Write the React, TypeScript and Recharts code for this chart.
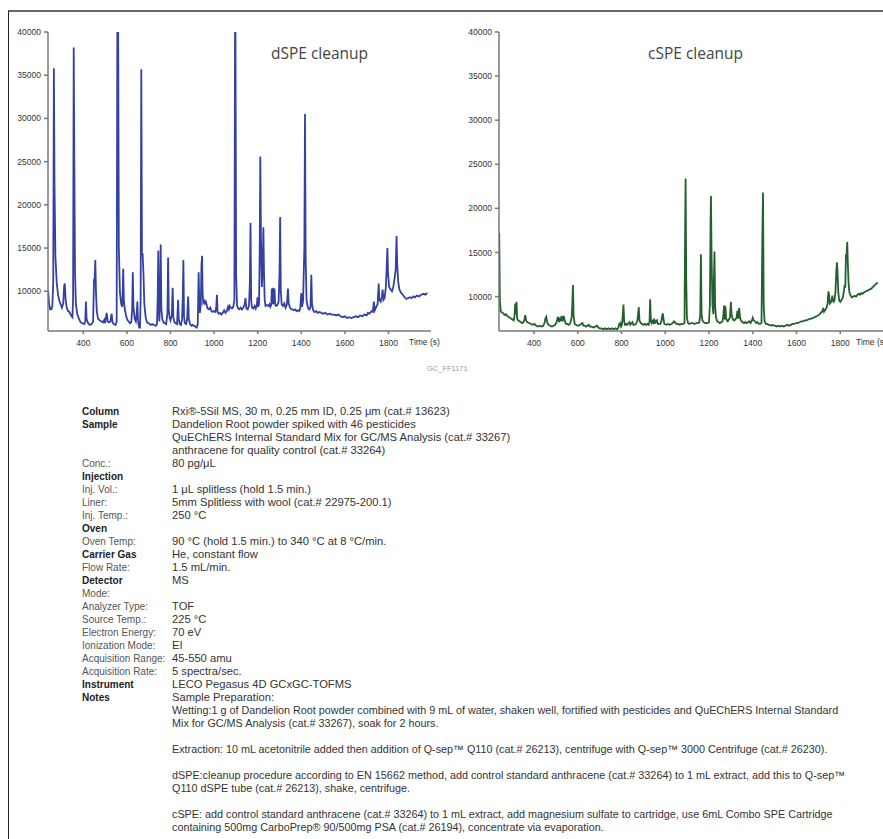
import { LineChart, Line, XAxis, YAxis } from "recharts";

// retention time (s) vs. detector response
const dspeTrace: [number, number][] = [
  [238, 10100], [243, 8600], [248, 7900], [254, 7900], [258, 8300], [262, 11000], [265, 35800],
  [268, 22000], [272, 14000], [278, 11000], [284, 9600], [290, 8900], [296, 8500], [302, 8100],
  [308, 8600], [312, 10600], [315, 10900], [319, 9000], [324, 8100], [330, 7700], [336, 7600],
  [344, 7200], [350, 7000], [353, 9000], [356, 38200], [359, 24000], [362, 12000], [366, 8500],
  [372, 7400], [380, 6800], [388, 6400], [396, 6300], [404, 6200], [409, 6500], [412, 8800],
  [415, 6800], [422, 6300], [430, 6100], [438, 6200], [445, 6500], [449, 11300], [452, 11500],
  [455, 13600], [458, 10000], [462, 7600], [468, 6800], [476, 6600], [484, 6500], [490, 6400],
  [496, 6700], [500, 6300], [507, 7500], [512, 6500], [518, 6400], [524, 6500], [530, 7400],
  [534, 6400], [540, 6200], [548, 6100], [553, 6500], [556, 40000], [560, 40000], [563, 15000],
  [568, 9800], [574, 8500], [579, 8200], [583, 12600], [586, 9000], [590, 8000], [596, 7200],
  [602, 6700], [608, 6500], [614, 6300], [620, 6400], [624, 7800], [627, 12200], [630, 8200],
  [636, 6800], [641, 6500], [645, 7400], [648, 8800], [651, 6600], [656, 5800], [660, 5800],
  [663, 9000], [666, 35700], [669, 14200], [672, 14400], [676, 12000], [680, 8500], [686, 7000],
  [692, 6400], [700, 6300], [708, 6100], [716, 6200], [724, 6100], [732, 6000], [738, 6200],
  [741, 9000], [744, 14700], [746, 8000], [749, 6500], [752, 9000], [755, 15400], [758, 8000],
  [762, 6800], [768, 6400], [774, 6300], [780, 6200], [786, 7500], [789, 13900], [792, 8000],
  [796, 6900], [800, 6600], [806, 7200], [810, 10400], [813, 7000], [818, 6400], [824, 6300],
  [830, 6200], [835, 9000], [838, 6800], [842, 6200], [848, 6100], [853, 6800], [856, 9000],
  [859, 13600], [862, 7000], [866, 6300], [872, 6200], [876, 6700], [881, 9400], [884, 6800],
  [890, 6200], [896, 6000], [902, 6100], [908, 6000], [914, 5900], [920, 5800], [925, 6200],
  [929, 12200], [932, 9000], [935, 7500], [939, 8500], [942, 13000], [945, 14100], [947, 10000],
  [950, 8700], [954, 8900], [958, 8600], [962, 8800], [966, 8400], [970, 8000], [976, 7900],
  [982, 8100], [988, 7700], [994, 7600], [1000, 7700], [1006, 7600], [1010, 8200], [1013, 9600],
  [1016, 7600], [1022, 7400], [1028, 7500], [1034, 7300], [1040, 7500], [1046, 7800], [1052, 7500],
  [1058, 7700], [1064, 8200], [1068, 7900], [1072, 8300], [1076, 8100], [1082, 8000], [1088, 8200],
  [1093, 9000], [1096, 40000], [1098, 40000], [1101, 12000], [1105, 8400], [1110, 8000], [1116, 7900],
  [1122, 8100], [1128, 7900], [1134, 8100], [1140, 8500], [1144, 9200], [1148, 8000], [1154, 7900],
  [1160, 8300], [1164, 11000], [1167, 17900], [1170, 9000], [1174, 8100], [1180, 8000], [1186, 8300],
  [1191, 8000], [1196, 8400], [1199, 9300], [1202, 8200], [1206, 8500], [1209, 14000], [1212, 25600],
  [1215, 16000], [1219, 10500], [1223, 13000], [1226, 17400], [1229, 12000], [1232, 9000], [1236, 8300],
  [1242, 8400], [1248, 8300], [1254, 8500], [1258, 8200], [1262, 8400], [1265, 10300], [1268, 8500],
  [1271, 10400], [1274, 8500], [1277, 10300], [1280, 8500], [1284, 8300], [1290, 8400], [1296, 8800],
  [1300, 12000], [1303, 18600], [1306, 10000], [1310, 8500], [1316, 8300], [1322, 8600], [1328, 8100],
  [1334, 8500], [1339, 10300], [1342, 8600], [1348, 8100], [1354, 7900], [1360, 7900], [1366, 7800],
  [1372, 7900], [1378, 7700], [1384, 7800], [1390, 7700], [1395, 8000], [1400, 9800], [1403, 8200],
  [1408, 8800], [1414, 15000], [1417, 30500], [1420, 14000], [1424, 9000], [1430, 8100], [1436, 7900],
  [1442, 8100], [1446, 11900], [1449, 8600], [1454, 7800], [1460, 7600], [1468, 7700], [1476, 7500],
  [1484, 7600], [1492, 7500], [1500, 7400], [1510, 7500], [1520, 7300], [1530, 7400], [1540, 7300],
  [1550, 7300], [1560, 7200], [1570, 7300], [1580, 7100], [1590, 7000], [1600, 7100], [1610, 6900],
  [1620, 7000], [1630, 6900], [1640, 7000], [1650, 7100], [1660, 7000], [1670, 7200], [1680, 7100],
  [1690, 7300], [1700, 7200], [1706, 7500], [1712, 7400], [1722, 7700], [1728, 7600], [1733, 8800],
  [1737, 7800], [1744, 8200], [1750, 8500], [1755, 10900], [1758, 9000], [1764, 8800], [1770, 9400],
  [1773, 10200], [1777, 9000], [1782, 9200], [1788, 10500], [1792, 13000], [1795, 15000], [1798, 12000],
  [1803, 10500], [1810, 10200], [1816, 10000], [1822, 10500], [1828, 11500], [1833, 12500], [1837, 16400],
  [1840, 13000], [1845, 11000], [1850, 10200], [1858, 9800], [1866, 9600], [1874, 9300], [1882, 9100],
  [1890, 9200], [1898, 9300], [1906, 9200], [1914, 9400], [1922, 9300], [1930, 9500], [1940, 9400],
  [1950, 9600], [1960, 9700], [1970, 9600], [1978, 9800],
];

const cspeTrace: [number, number][] = [
  [241, 17200], [244, 9500], [248, 8300], [254, 8200], [260, 8100], [266, 7900], [272, 8000],
  [278, 7800], [284, 7700], [290, 7600], [296, 7500], [302, 7400], [307, 7300], [311, 7800],
  [314, 9200], [317, 8000], [320, 9400], [323, 7500], [328, 7300], [334, 7200], [340, 7100],
  [346, 7000], [352, 7100], [356, 7400], [360, 7900], [364, 7300], [370, 7100], [378, 7000],
  [386, 6900], [394, 6800], [402, 6900], [410, 6700], [418, 6600], [426, 6700], [434, 6600],
  [442, 6700], [448, 7000], [452, 7500], [456, 7700], [460, 7100], [466, 6800], [474, 6700],
  [482, 6600], [490, 6700], [496, 6800], [502, 7000], [506, 7400], [510, 7700], [514, 7100],
  [518, 7600], [522, 7200], [526, 7800], [530, 7200], [536, 7800], [540, 7300], [546, 6900],
  [552, 6900], [558, 6800], [564, 6900], [568, 7200], [572, 7600], [575, 9000], [578, 11300],
  [581, 7800], [586, 6900], [592, 6800], [598, 6700], [604, 6700], [610, 6800], [616, 6900],
  [622, 7000], [626, 6700], [632, 6700], [638, 6600], [644, 6700], [650, 6800], [656, 6600],
  [664, 6600], [672, 6500], [680, 6600], [688, 6700], [694, 6500], [700, 6400], [708, 6400],
  [716, 6300], [724, 6400], [732, 6300], [740, 6400], [748, 6300], [756, 6400], [764, 6300],
  [772, 6400], [780, 6300], [786, 6500], [790, 6900], [794, 7000], [798, 6600], [802, 6800],
  [806, 8000], [809, 9100], [812, 7200], [816, 6800], [822, 6900], [826, 6800], [832, 7000],
  [836, 7100], [840, 6800], [846, 7000], [850, 7100], [854, 6800], [860, 6800], [866, 6900],
  [872, 7200], [876, 8000], [879, 8800], [882, 7300], [888, 7000], [894, 6900], [900, 6800],
  [906, 6900], [912, 6800], [918, 6900], [924, 6800], [928, 7100], [931, 9700], [934, 7400],
  [938, 7000], [944, 7300], [948, 6900], [952, 7300], [956, 7100], [962, 7300], [966, 6900],
  [972, 6900], [978, 6900], [982, 7200], [986, 7800], [989, 8100], [992, 7400], [996, 6900],
  [1004, 6800], [1012, 6900], [1020, 6800], [1028, 6900], [1034, 7000], [1040, 7200], [1044, 7100],
  [1050, 6900], [1058, 6900], [1066, 6800], [1074, 6900], [1082, 6900], [1088, 7000], [1091, 18000],
  [1093, 23400], [1096, 12000], [1099, 7600], [1104, 7000], [1110, 6900], [1118, 7000], [1126, 7000],
  [1134, 6900], [1142, 7000], [1150, 7000], [1156, 7100], [1160, 8000], [1163, 14800], [1166, 8000],
  [1170, 7300], [1176, 7100], [1182, 7000], [1188, 7000], [1194, 7000], [1200, 7100], [1204, 9000],
  [1207, 18000], [1209, 21400], [1212, 14000], [1216, 9000], [1220, 8000], [1222, 11500], [1225, 15100],
  [1228, 9000], [1232, 7600], [1238, 7200], [1244, 7100], [1250, 7000], [1256, 7100], [1262, 7200],
  [1266, 8000], [1269, 9000], [1272, 7400], [1275, 8900], [1278, 7500], [1282, 7300], [1286, 7200],
  [1290, 7400], [1296, 7600], [1300, 9400], [1303, 8000], [1308, 7500], [1314, 7300], [1320, 7400],
  [1326, 7600], [1330, 8400], [1334, 7500], [1338, 8700], [1342, 7600], [1348, 7200], [1354, 7100],
  [1360, 7000], [1366, 7100], [1372, 7000], [1378, 7100], [1384, 7200], [1390, 7000], [1396, 7300],
  [1400, 7600], [1404, 7300], [1410, 7200], [1416, 7000], [1422, 7100], [1428, 6900], [1434, 6900],
  [1440, 7000], [1444, 17000], [1447, 21800], [1450, 9000], [1454, 7200], [1460, 6900], [1466, 6900],
  [1472, 6800], [1478, 6800], [1484, 6700], [1490, 6800], [1496, 6700], [1502, 6700], [1510, 6600],
  [1518, 6700], [1526, 6600], [1534, 6700], [1542, 6600], [1550, 6700], [1558, 6800], [1566, 6700],
  [1574, 6800], [1582, 6900], [1590, 6900], [1598, 7000], [1606, 7000], [1614, 7100], [1622, 7200],
  [1630, 7200], [1638, 7300], [1646, 7300], [1654, 7400], [1662, 7500], [1670, 7500], [1678, 7600],
  [1686, 7700], [1694, 7800], [1700, 7900], [1706, 8000], [1712, 8200], [1718, 8300], [1722, 8700],
  [1726, 8300], [1732, 8500], [1738, 8800], [1742, 9200], [1746, 10600], [1749, 10200], [1752, 9200],
  [1756, 9300], [1760, 9500], [1764, 10100], [1767, 9500], [1770, 9400], [1774, 9600], [1778, 10500],
  [1782, 12900], [1785, 13900], [1788, 12500], [1791, 10500], [1795, 9600], [1800, 9400], [1806, 9600],
  [1812, 9900], [1816, 10500], [1820, 11300], [1823, 11000], [1826, 14700], [1829, 14800], [1832, 16200],
  [1835, 13500], [1838, 11500], [1842, 10500], [1848, 10100], [1854, 9900], [1860, 10000], [1866, 10100],
  [1872, 10000], [1878, 10200], [1884, 10300], [1890, 10200], [1896, 10400], [1902, 10300], [1910, 10500],
  [1918, 10600], [1926, 10700], [1934, 10800], [1942, 10900], [1950, 11100], [1958, 11300], [1966, 11500],
  [1972, 11600],
];

const timeTicks = [400, 600, 800, 1000, 1200, 1400, 1600, 1800];
const intensityTicks = [10000, 15000, 20000, 25000, 30000, 35000, 40000];

type Row = { label: string; value: string; kind?: "head" | "sub" | "note" };

const conditions: Row[] = [
  { label: "Column", value: "Rxi®-5Sil MS, 30 m, 0.25 mm ID, 0.25 μm (cat.# 13623)", kind: "head" },
  { label: "Sample", value: "Dandelion Root powder spiked with 46 pesticides", kind: "head" },
  { label: "", value: "QuEChERS Internal Standard Mix for GC/MS Analysis (cat.# 33267)" },
  { label: "", value: "anthracene for quality control (cat.# 33264)" },
  { label: "Conc.:", value: "80 pg/μL", kind: "sub" },
  { label: "Injection", value: "", kind: "head" },
  { label: "Inj. Vol.:", value: "1 μL splitless (hold 1.5 min.)", kind: "sub" },
  { label: "Liner:", value: "5mm Splitless with wool (cat.# 22975-200.1)", kind: "sub" },
  { label: "Inj. Temp.:", value: "250 °C", kind: "sub" },
  { label: "Oven", value: "", kind: "head" },
  { label: "Oven Temp:", value: "90 °C (hold 1.5 min.) to 340 °C at 8 °C/min.", kind: "sub" },
  { label: "Carrier Gas", value: "He, constant flow", kind: "head" },
  { label: "Flow Rate:", value: "1.5 mL/min.", kind: "sub" },
  { label: "Detector", value: "MS", kind: "head" },
  { label: "Mode:", value: "", kind: "sub" },
  { label: "Analyzer Type:", value: "TOF", kind: "sub" },
  { label: "Source Temp.:", value: "225 °C", kind: "sub" },
  { label: "Electron Energy:", value: "70 eV", kind: "sub" },
  { label: "Ionization Mode:", value: "EI", kind: "sub" },
  { label: "Acquisition Range:", value: "45-550 amu", kind: "sub" },
  { label: "Acquisition Rate:", value: "5 spectra/sec.", kind: "sub" },
  { label: "Instrument", value: "LECO Pegasus 4D GCxGC-TOFMS", kind: "head" },
  { label: "Notes", value: "Sample Preparation:", kind: "head" },
  { label: "", value: "Wetting:1 g of Dandelion Root powder combined with 9 mL of water, shaken well, fortified with pesticides and QuEChERS Internal Standard", kind: "note" },
  { label: "", value: "Mix for GC/MS Analysis (cat.# 33267), soak for 2 hours.", kind: "note" },
  { label: "", value: "" },
  { label: "", value: "Extraction: 10 mL acetonitrile added then addition of Q-sep™ Q110 (cat.# 26213), centrifuge with Q-sep™ 3000 Centrifuge (cat.# 26230).", kind: "note" },
  { label: "", value: "" },
  { label: "", value: "dSPE:cleanup procedure according to EN 15662 method, add control standard anthracene (cat.# 33264) to 1 mL extract, add this to Q-sep™", kind: "note" },
  { label: "", value: "Q110 dSPE tube (cat.# 26213), shake, centrifuge.", kind: "note" },
  { label: "", value: "" },
  { label: "", value: "cSPE: add control standard anthracene (cat.# 33264) to 1 mL extract, add magnesium sulfate to cartridge, use 6mL Combo SPE Cartridge", kind: "note" },
  { label: "", value: "containing 500mg CarboPrep® 90/500mg PSA (cat.# 26194), concentrate via evaporation.", kind: "note" },
];

const FONT = "'Liberation Sans', Arial, sans-serif";
const tickStyle = { fontSize: 8.5, fill: "#333", fontFamily: FONT };

interface ChromatogramProps {
  trace: [number, number][];
  color: string;
  width: number;
  timeDomain: [number, number];
  yMin: number;
}

function Chromatogram({ trace, color, width, timeDomain, yMin }: ChromatogramProps) {
  const data = trace.map(([t, v]) => ({ t, v }));
  return (
    <LineChart width={width} height={343} data={data} margin={{ top: 24, right: 10, bottom: 0, left: 0 }}>
      <XAxis
        type="number"
        dataKey="t"
        domain={timeDomain}
        ticks={timeTicks}
        allowDataOverflow
        height={20}
        tick={tickStyle}
        tickSize={3}
        tickMargin={6}
        stroke="#777"
        strokeWidth={1.5}
      />
      <YAxis
        type="number"
        domain={[yMin, 40000]}
        ticks={intensityTicks}
        allowDataOverflow
        width={40}
        tick={tickStyle}
        tickSize={4}
        tickMargin={3}
        stroke="#777"
        strokeWidth={1.5}
      />
      <Line
        type="linear"
        dataKey="v"
        stroke={color}
        strokeWidth={1.8}
        dot={false}
        activeDot={false}
        isAnimationActive={false}
      />
    </LineChart>
  );
}

const abs = (left: number, top: number) => ({ position: "absolute" as const, left, top });

export default function App() {
  return (
    <div style={{ position: "relative", width: 883, height: 839, overflow: "hidden", background: "#fff", fontFamily: FONT }}>
      <style>{`body{margin:0}`}</style>
      {/* frame */}
      <div style={{ ...abs(8, 10), width: 900, height: 840, borderTop: "2px solid #666", borderLeft: "1px solid #222" }} />

      <div style={abs(8, 8)}>
        <Chromatogram trace={dspeTrace} color="#3341a3" width={433} timeDomain={[238, 1995]} yMin={5400} />
      </div>
      <div style={abs(459, 8)}>
        <Chromatogram trace={cspeTrace} color="#22602e" width={435} timeDomain={[240, 2000]} yMin={6100} />
      </div>

      <div style={{ ...abs(271, 42), fontFamily: "'Open Sans', sans-serif", fontSize: 15.5, color: "#444", whiteSpace: "nowrap" }}>dSPE cleanup</div>
      <div style={{ ...abs(648, 42), fontFamily: "'Open Sans', sans-serif", fontSize: 15.5, color: "#444", whiteSpace: "nowrap" }}>cSPE cleanup</div>
      <div style={{ ...abs(409, 337), fontSize: 8.5, color: "#333", whiteSpace: "nowrap" }}>Time (s)</div>
      <div style={{ ...abs(856, 337), fontSize: 8.5, color: "#333", whiteSpace: "nowrap" }}>Time (s)</div>
      <div style={{ ...abs(427, 364), fontSize: 7.5, color: "#999" }}>GC_FF1171</div>

      {/* instrument conditions */}
      <div style={{ ...abs(82, 404.5), width: 790 }}>
        {conditions.map((row, i) => (
          <div key={i} style={{ position: "relative", height: 13, lineHeight: "13px", whiteSpace: "nowrap" }}>
            <span
              style={{
                position: "absolute",
                left: 0,
                fontSize: 10,
                fontWeight: row.kind === "head" ? 700 : 400,
                color: row.kind === "head" ? "#222" : "#555",
              }}
            >
              {row.label}
            </span>
            <span
              style={{
                position: "absolute",
                left: 90,
                fontSize: row.kind === "note" ? 10.8 : 11.2,
                color: "#333",
              }}
            >
              {row.value}
            </span>
          </div>
        ))}
      </div>
    </div>
  );
}
